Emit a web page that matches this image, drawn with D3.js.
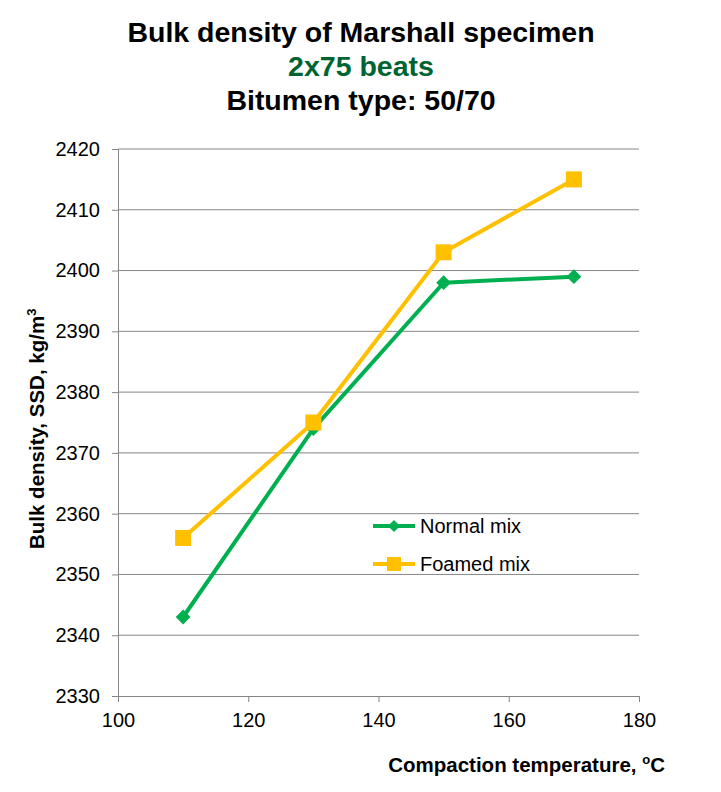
<!DOCTYPE html>
<html>
<head>
<meta charset="utf-8">
<script src="https://cdn.jsdelivr.net/npm/d3@7"></script>
<style>
  body { margin: 0; background: #fff; }
  text { font-family: "Liberation Sans", Arial, sans-serif; }
</style>
</head>
<body>
<svg id="chart" width="721" height="792"></svg>
<script>
// data
const temps = [110, 130, 150, 170];
const normalMix = [2343, 2374, 2398, 2399];
const foamedMix = [2356, 2375, 2403, 2415];
const xTicks = [100, 120, 140, 160, 180];
const yTicks = [2330, 2340, 2350, 2360, 2370, 2380, 2390, 2400, 2410, 2420];

const series = [
  { name: "Normal mix", values: normalMix, color: "#00B050", marker: "diamond" },
  { name: "Foamed mix", values: foamedMix, color: "#FFC000", marker: "square" }
];

let svg = d3.select("#chart");

let x = d3.scaleLinear().domain([100, 180]).range([118, 639]);
let y = d3.scaleLinear().domain([2330, 2420]).range([696, 149]);

// titles
let titles = [
  { t: "Bulk density of Marshall specimen", c: "#000", y: 42 },
  { t: "2x75 beats", c: "#006432", y: 76 },
  { t: "Bitumen type: 50/70", c: "#000", y: 110 }
];
svg.selectAll(".title").data(titles).enter()
  .append("text")
  .attr("x", 361).attr("y", d => d.y)
  .attr("text-anchor", "middle")
  .attr("font-size", 28.5).attr("font-weight", "bold")
  .attr("fill", d => d.c)
  .text(d => d.t);

// gridlines
svg.append("g").selectAll("line").data(yTicks.slice(1)).enter()
  .append("line")
  .attr("x1", x(100)).attr("x2", x(180))
  .attr("y1", d => y(d)).attr("y2", d => y(d))
  .attr("stroke", "#868686").attr("stroke-width", 1);

// axes
let yAxis = svg.append("g")
  .attr("transform", `translate(${x(100)},0)`)
  .call(d3.axisLeft(y).tickValues(yTicks).tickSize(6).tickPadding(12).tickFormat(d3.format("d")));
let xAxis = svg.append("g")
  .attr("transform", `translate(0,${y(2330)})`)
  .call(d3.axisBottom(x).tickValues(xTicks).tickSize(6).tickPadding(11).tickFormat(d3.format("d")));

[yAxis, xAxis].forEach(a => {
  a.select(".domain").attr("stroke", "#868686");
  a.selectAll(".tick line").attr("stroke", "#868686");
  a.selectAll("text").attr("font-size", 20).attr("fill", "#000")
    .attr("font-family", "'Liberation Sans', Arial, sans-serif");
});

// axis titles
svg.append("text")
  .attr("transform", "translate(44,549) rotate(-90)")
  .attr("text-anchor", "start")
  .attr("font-size", 20.5).attr("font-weight", "bold")
  .html('Bulk density, SSD, kg/m<tspan dy="-8" font-size="13">3</tspan>');

svg.append("text")
  .attr("x", 665).attr("y", 772)
  .attr("text-anchor", "end")
  .attr("font-size", 20.5).attr("font-weight", "bold")
  .html('Compaction temperature, <tspan dy="-8" font-size="13">o</tspan><tspan dy="8">C</tspan>');

// lines + markers
let line = d3.line().x((d, i) => x(temps[i])).y(d => y(d));

function drawMarker(g, type, color, big) {
  if (type === "diamond") {
    g.append("path").attr("d", d3.symbol().type(d3.symbolDiamond2).size(big ? 140 : 95)())
      .attr("fill", color);
  } else {
    let h = big ? 8 : 7;
    g.append("rect").attr("x", -h).attr("y", -h).attr("width", 2 * h).attr("height", 2 * h)
      .attr("fill", color);
  }
}

series.forEach(s => {
  svg.append("path")
    .attr("d", line(s.values))
    .attr("fill", "none")
    .attr("stroke", s.color)
    .attr("stroke-width", 4)
    .attr("stroke-linejoin", "round");
  s.values.forEach((v, i) => {
    let g = svg.append("g").attr("transform", `translate(${x(temps[i])},${y(v)})`);
    drawMarker(g, s.marker, s.color, true);
  });
});

// legend
let legend = svg.append("g").attr("transform", "translate(373,526)");
series.forEach((s, i) => {
  let g = legend.append("g").attr("transform", `translate(0,${i * 38})`);
  g.append("line").attr("x1", 0).attr("x2", 42).attr("y1", 0).attr("y2", 0)
    .attr("stroke", s.color).attr("stroke-width", 4);
  let m = g.append("g").attr("transform", "translate(21,0)");
  drawMarker(m, s.marker, s.color, false);
  g.append("text").attr("x", 47).attr("y", 7)
    .attr("font-size", 20).attr("fill", "#000")
    .text(s.name);
});
</script>
</body>
</html>
